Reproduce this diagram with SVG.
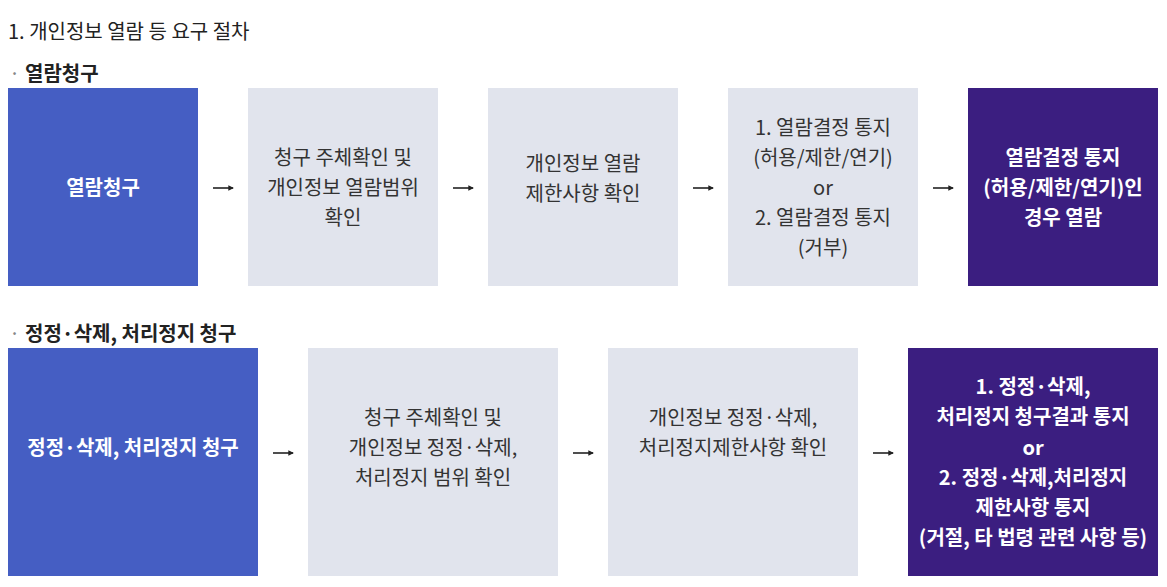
<svg xmlns="http://www.w3.org/2000/svg" width="1167" height="587" viewBox="0 0 1167 587">
<style>
text{font-family:"Noto Sans CJK KR","Noto Sans",sans-serif;font-size:20px}
.title{fill:#222}
.head{fill:#222;font-weight:bold}
.dot{fill:#888}
.blue{fill:#455ec3}
.gray{fill:#e1e4ed}
.purple{fill:#3b1e80}
.wt{fill:#fff;text-anchor:middle;font-weight:bold}
.dt{fill:#333;text-anchor:middle}
.arr{stroke:#222;stroke-width:1.6;fill:none}
</style>
<defs>
<marker id="ah" viewBox="0 0 6 6" refX="5" refY="3" markerWidth="3.5" markerHeight="3.5" orient="auto"><path d="M0,0L6,3L0,6z" fill="#222"/></marker>
</defs>
<text class="title" x="8" y="39">1. 개인정보 열람 등 요구 절차</text>
<text class="dot" x="9" y="81">·</text>
<text class="head" x="25" y="81">열람청구</text>
<text class="dot" x="9" y="341">·</text>
<text class="head" x="25" y="341">정정·삭제, 처리정지 청구</text>

<g id="n1"><rect class="blue" x="8" y="88" width="190" height="198"/><text class="wt" x="103" y="195">열람청구</text></g>
<g id="n2"><rect class="gray" x="248" y="88" width="190" height="198"/><text class="dt" x="343" y="165">청구 주체확인 및</text><text class="dt" x="343" y="195">개인정보 열람범위</text><text class="dt" x="343" y="225">확인</text></g>
<g id="n3"><rect class="gray" x="488" y="88" width="190" height="198"/><text class="dt" x="583" y="171">개인정보 열람</text><text class="dt" x="583" y="201">제한사항 확인</text></g>
<g id="n4"><rect class="gray" x="728" y="88" width="190" height="198"/><text class="dt" x="823" y="135">1. 열람결정 통지</text><text class="dt" x="823" y="165">(허용/제한/연기)</text><text class="dt" x="823" y="195">or</text><text class="dt" x="823" y="225">2. 열람결정 통지</text><text class="dt" x="823" y="255">(거부)</text></g>
<g id="n5"><rect class="purple" x="968" y="88" width="190" height="198"/><text class="wt" x="1063" y="165">열람결정 통지</text><text class="wt" x="1063" y="195">(허용/제한/연기)인</text><text class="wt" x="1063" y="225">경우 열람</text></g>

<g id="m1"><rect class="blue" x="8" y="348" width="250" height="228"/><text class="wt" x="133" y="455">정정·삭제, 처리정지 청구</text></g>
<g id="m2"><rect class="gray" x="308" y="348" width="250" height="228"/><text class="dt" x="433" y="425">청구 주체확인 및</text><text class="dt" x="433" y="455">개인정보 정정·삭제,</text><text class="dt" x="433" y="485">처리정지 범위 확인</text></g>
<g id="m3"><rect class="gray" x="608" y="348" width="250" height="228"/><text class="dt" x="733" y="425">개인정보 정정·삭제,</text><text class="dt" x="733" y="455">처리정지제한사항 확인</text></g>
<g id="m4"><rect class="purple" x="908" y="348" width="250" height="228"/><text class="wt" x="1033" y="394">1. 정정·삭제,</text><text class="wt" x="1033" y="424">처리정지 청구결과 통지</text><text class="wt" x="1033" y="455">or</text><text class="wt" x="1033" y="485">2. 정정·삭제,처리정지</text><text class="wt" x="1033" y="515">제한사항 통지</text><text class="wt" x="1033" y="545">(거절, 타 법령 관련 사항 등)</text></g>

<g id="connectors">
<path class="arr" d="M213,188H233" marker-end="url(#ah)"/>
<path class="arr" d="M453,188H473" marker-end="url(#ah)"/>
<path class="arr" d="M693,188H713" marker-end="url(#ah)"/>
<path class="arr" d="M933,188H953" marker-end="url(#ah)"/>
<path class="arr" d="M273,453H293" marker-end="url(#ah)"/>
<path class="arr" d="M573,453H593" marker-end="url(#ah)"/>
<path class="arr" d="M873,453H893" marker-end="url(#ah)"/>
</g>
</svg>
